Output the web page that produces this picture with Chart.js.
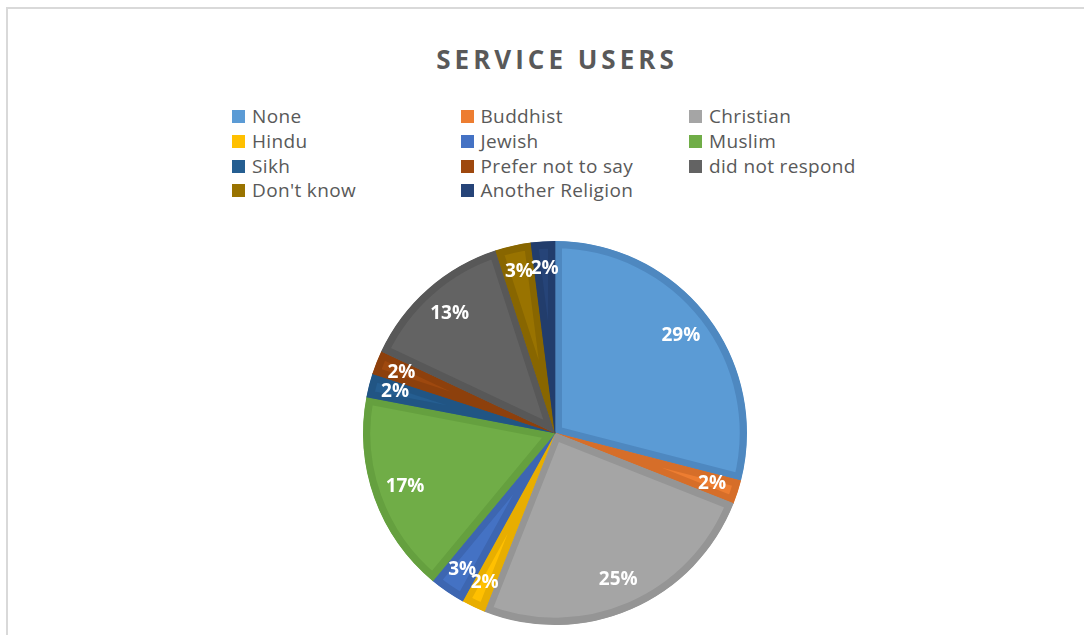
<!DOCTYPE html>
<html>
<head>
<meta charset="utf-8">
<title>Service Users</title>
<script src="https://cdn.jsdelivr.net/npm/chart.js@4.4.1/dist/chart.umd.min.js"></script>
<style>
  html, body { margin: 0; padding: 0; background: #fff; }
  body { width: 1084px; height: 635px; position: relative; overflow: hidden; font-family: "Open Sans", sans-serif; }
  #frame { position: absolute; left: 6px; top: 7px; right: -10px; bottom: -10px; border-top: 2px solid #d9d9d9; border-left: 2px solid #d9d9d9; }
  #title { position: absolute; left: 30px; right: 0; top: 41px; text-align: center; font-weight: bold; font-size: 26px; color: #595959; letter-spacing: 4px; }
  #legend { position: absolute; left: 232px; top: 104px; }
  .item { position: absolute; white-space: nowrap; font-size: 19px; letter-spacing: 0.35px; color: #595959; line-height: 25px; }
  .item span.box { position: absolute; left: 0; top: 6px; width: 13px; height: 13px; }
  .item span.txt { position: absolute; left: 20px; top: 0; }
  canvas { position: absolute; left: 0; top: 0; }
</style>
</head>
<body>
<div id="frame"></div>
<div id="title">SERVICE USERS</div>
<div id="legend"></div>
<canvas id="pieCanvas" width="1084" height="635"></canvas>
<script>
const religions = ["None", "Buddhist", "Christian", "Hindu", "Jewish", "Muslim", "Sikh",
  "Prefer not to say", "did not respond", "Don't know", "Another Religion"];
const shares = [29, 2, 25, 2, 3, 17, 2, 2, 13, 3, 2];
const fillColors = ["#5b9bd5", "#ed7d31", "#a5a5a5", "#ffc000", "#4472c4", "#70ad47",
  "#255e91", "#9e480e", "#636363", "#997300", "#264478"];
const edgeColors = ["#4e88c0", "#d66e29", "#959595", "#e8ae00", "#3d66b1", "#65a03f",
  "#215584", "#8d400c", "#585858", "#886600", "#223d6c"];

// legend: three columns, filled row by row
const legend = document.getElementById("legend");
religions.forEach((name, i) => {
  const item = document.createElement("div");
  item.className = "item";
  item.style.left = (i % 3) * 228.5 + "px";
  item.style.top = Math.floor(i / 3) * 24.8 + "px";
  item.innerHTML = '<span class="box" style="background:' + fillColors[i] + '"></span><span class="txt"></span>';
  item.querySelector(".txt").textContent = name;
  legend.appendChild(item);
});

// percentage labels inside each slice
const sliceLabels = {
  id: "sliceLabels",
  afterDatasetsDraw(chart) {
    const ctx = chart.ctx;
    const meta = chart.getDatasetMeta(0);
    ctx.save();
    ctx.fillStyle = "#ffffff";
    ctx.font = "bold 19px 'Open Sans'";
    ctx.textAlign = "center";
    ctx.textBaseline = "middle";
    meta.data.forEach((arc, i) => {
      const p = arc.getProps(["x", "y", "startAngle", "endAngle", "outerRadius"], true);
      const mid = (p.startAngle + p.endAngle) / 2;
      const r = p.outerRadius * (shares[i] < 5 ? 0.86 : 0.83);
      ctx.fillText(shares[i] + "%", p.x + Math.cos(mid) * r, p.y + Math.sin(mid) * r);
    });
    ctx.restore();
  }
};

new Chart(document.getElementById("pieCanvas"), {
  type: "pie",
  data: {
    labels: religions,
    datasets: [{
      data: shares,
      backgroundColor: fillColors,
      borderColor: edgeColors,
      borderWidth: 7,
      borderAlign: "inner"
    }]
  },
  options: {
    responsive: false,
    animation: false,
    layout: { padding: { top: 241, bottom: 10, left: 26, right: 0 } },
    plugins: {
      legend: { display: false },
      tooltip: { enabled: false }
    }
  },
  plugins: [sliceLabels]
});
</script>
</body>
</html>
